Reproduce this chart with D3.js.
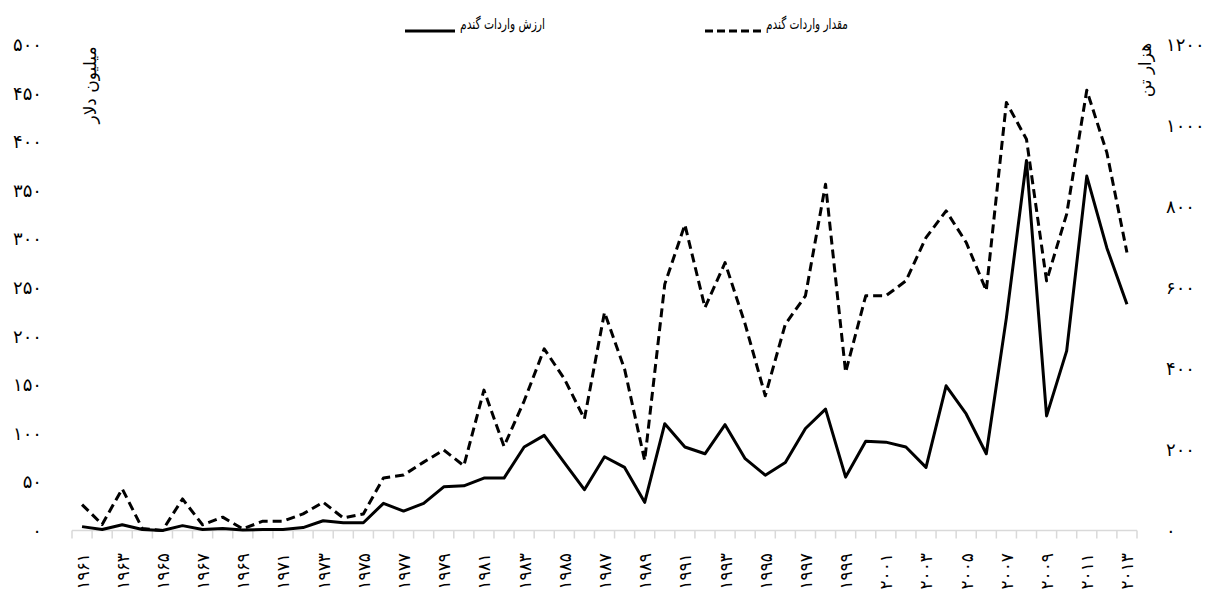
<!DOCTYPE html>
<html>
<head>
<meta charset="utf-8">
<script src="https://cdn.jsdelivr.net/npm/d3@7"></script>
<style>
    body { margin: 0; background: #fff; }
    text { font-family: "DejaVu Sans", sans-serif; fill: #000; }
</style>
</head>
<body>
<svg id="chart" width="1207" height="589"></svg>
<script>
const years = [1961, 1962, 1963, 1964, 1965, 1966, 1967, 1968, 1969, 1970,
    1971, 1972, 1973, 1974, 1975, 1976, 1977, 1978, 1979, 1980,
    1981, 1982, 1983, 1984, 1985, 1986, 1987, 1988, 1989, 1990,
    1991, 1992, 1993, 1994, 1995, 1996, 1997, 1998, 1999, 2000,
    2001, 2002, 2003, 2004, 2005, 2006, 2007, 2008, 2009, 2010,
    2011, 2012, 2013];

// ارزش واردات گندم (میلیون دلار)
const importValue = [4, 1, 6, 1, 0, 5, 1, 2, 0.5, 1,
    1, 3, 10, 8, 8, 28, 20, 28, 45, 46,
    54, 54, 86, 98, 70, 42, 76, 65, 29, 110,
    86, 79, 109, 74, 57, 70, 105, 125, 55, 92,
    91, 86, 65, 149, 120, 79, 219, 381, 118, 185,
    365, 291, 233];

// مقدار واردات گندم (هزار تن)
const importQuantity = [64, 15, 103, 5, 0, 78, 14, 33, 4, 23,
    23, 41, 70, 31, 41, 130, 137, 169, 199, 160,
    347, 208, 320, 449, 375, 276, 539, 399, 173, 609,
    756, 551, 662, 510, 333, 510, 580, 856, 391, 580,
    580, 617, 724, 790, 712, 593, 1058, 967, 617, 782,
    1088, 934, 687];

const leftTicks = [0, 50, 100, 150, 200, 250, 300, 350, 400, 450, 500];
const rightTicks = [0, 200, 400, 600, 800, 1000, 1200];
const yearLabels = years.filter((d, i) => i % 2 === 0);

const seriesNames = ["ارزش واردات گندم", "مقدار واردات گندم"];
const leftTitle = "میلیون دلار";
const rightTitle = "هزار تن";

const faDigits = "۰۱۲۳۴۵۶۷۸۹";
function toPersian(n) {
    return String(n).replace(/[0-9]/g, c => faDigits[+c]);
}

const svg = d3.select("#chart");

const plotLeft = 72, plotRight = 1137;
const plotTop = 45, plotBottom = 530.5;

const x = d3.scaleBand()
    .domain(years)
    .range([plotLeft, plotRight])
    .paddingInner(0)
    .paddingOuter(0);

const cx = d => x(d) + x.bandwidth() / 2;

const yLeft = d3.scaleLinear().domain([0, 500]).range([plotBottom, plotTop]);
const yRight = d3.scaleLinear().domain([0, 1200]).range([plotBottom, plotTop]);

// x axis base line + boundary ticks
const grey = "#d9d9d9";
svg.append("line")
    .attr("x1", plotLeft).attr("x2", plotRight)
    .attr("y1", plotBottom).attr("y2", plotBottom)
    .attr("stroke", grey).attr("stroke-width", 1.5);

const boundaries = years.map(d => x(d)).concat([plotRight]);
svg.append("g")
    .selectAll("line")
    .data(boundaries)
    .join("line")
    .attr("x1", d => d).attr("x2", d => d)
    .attr("y1", plotBottom).attr("y2", plotBottom + 8)
    .attr("stroke", grey).attr("stroke-width", 1.5);

// year labels
svg.append("g")
    .selectAll("text")
    .data(yearLabels)
    .join("text")
    .attr("transform", d => `translate(${cx(d)},553) rotate(-90)`)
    .attr("text-anchor", "end")
    .attr("dy", "0.38em")
    .attr("font-size", 17)
    .text(d => toPersian(d));

// left axis
const leftAxis = d3.axisLeft(yLeft)
    .tickValues(leftTicks)
    .tickSize(0)
    .tickPadding(0)
    .tickFormat(d => toPersian(d));

svg.append("g")
    .attr("transform", "translate(42,0)")
    .call(leftAxis)
    .call(g => g.select(".domain").remove())
    .call(g => g.selectAll("text")
        .attr("font-size", 18)
        .attr("font-family", "DejaVu Sans, sans-serif")
        .attr("fill", "#000"));

// right axis
const rightAxis = d3.axisRight(yRight)
    .tickValues(rightTicks)
    .tickSize(0)
    .tickPadding(0)
    .tickFormat(d => toPersian(d));

svg.append("g")
    .attr("transform", "translate(1166,0)")
    .call(rightAxis)
    .call(g => g.select(".domain").remove())
    .call(g => g.selectAll("text")
        .attr("font-size", 18)
        .attr("font-family", "DejaVu Sans, sans-serif")
        .attr("fill", "#000"));

// axis titles
svg.append("text")
    .attr("transform", "translate(90,85) rotate(-90)")
    .attr("text-anchor", "middle")
    .attr("dy", "0.35em")
    .attr("font-size", 17)
    .text(leftTitle);

svg.append("text")
    .attr("transform", "translate(1145,70) rotate(-90)")
    .attr("text-anchor", "middle")
    .attr("dy", "0.35em")
    .attr("font-size", 17)
    .text(rightTitle);

// lines
const valueLine = d3.line()
    .x((d, i) => cx(years[i]))
    .y(d => yLeft(d));

const quantityLine = d3.line()
    .x((d, i) => cx(years[i]))
    .y(d => yRight(d));

svg.append("path")
    .datum(importQuantity)
    .attr("d", quantityLine)
    .attr("fill", "none")
    .attr("stroke", "#000")
    .attr("stroke-width", 3)
    .attr("stroke-dasharray", "9,5")
    .attr("stroke-linejoin", "round");

svg.append("path")
    .datum(importValue)
    .attr("d", valueLine)
    .attr("fill", "none")
    .attr("stroke", "#000")
    .attr("stroke-width", 3)
    .attr("stroke-linejoin", "round");

// legend
const legend = svg.append("g");
const legendItems = [
    { name: seriesNames[0], x1: 405, x2: 455, textLeft: 460, width: 85, dash: null },
    { name: seriesNames[1], x1: 705, x2: 762, textLeft: 766, width: 82, dash: "8,4" }
];

legendItems.forEach(item => {
    legend.append("line")
        .attr("x1", item.x1).attr("x2", item.x2)
        .attr("y1", 31).attr("y2", 31)
        .attr("stroke", "#000")
        .attr("stroke-width", 3)
        .attr("stroke-dasharray", item.dash);
    legend.append("text")
        .attr("x", item.textLeft + item.width / 2)
        .attr("y", 29)
        .attr("text-anchor", "middle")
        .attr("font-size", 15)
        .attr("textLength", item.width)
        .attr("lengthAdjust", "spacingAndGlyphs")
        .text(item.name);
});
</script>
</body>
</html>
